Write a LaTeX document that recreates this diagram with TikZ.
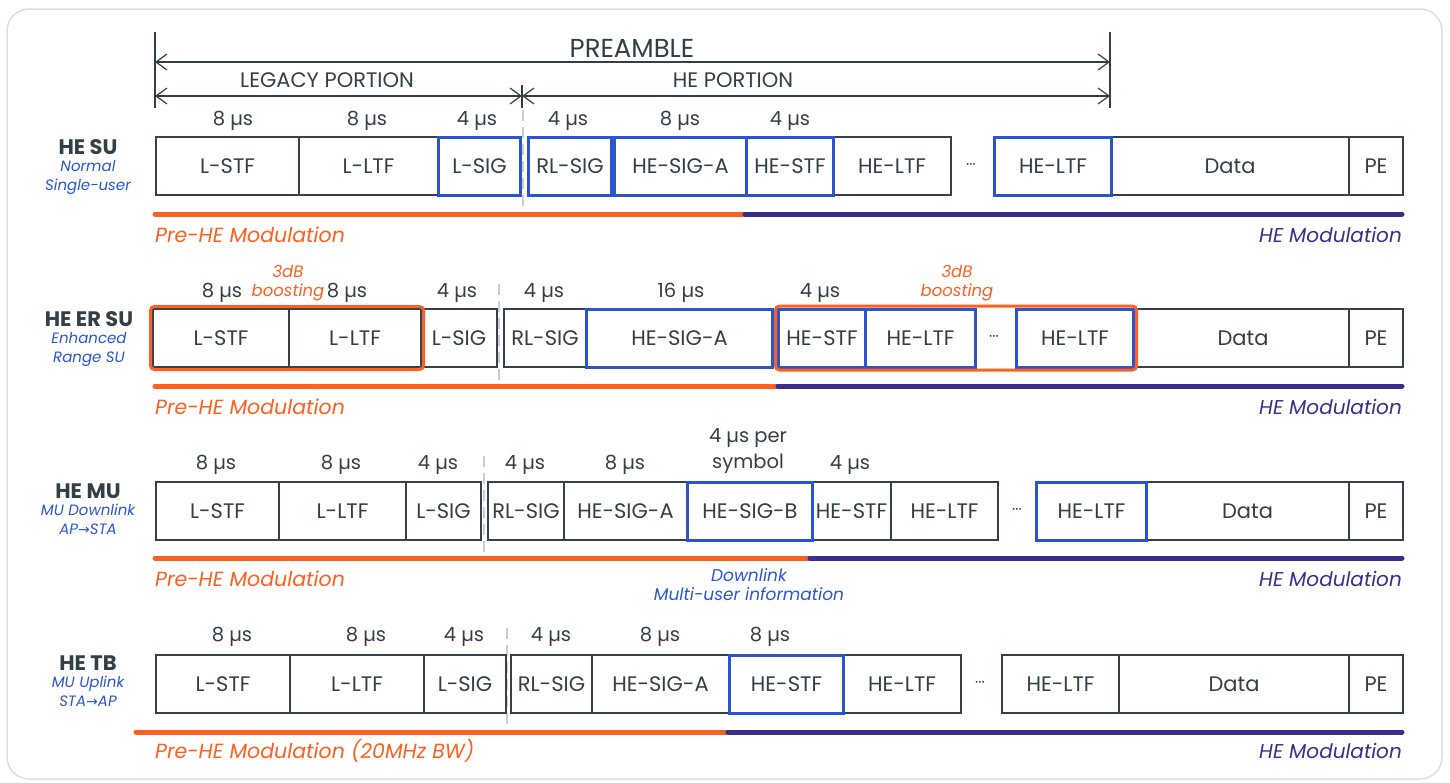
\documentclass[tikz,border=0pt]{standalone}
\usepackage{fontspec}
\setmainfont{Poppins}
\newfontfamily\symfont{DejaVu Sans}
\usetikzlibrary{positioning,arrows.meta,fit}
\definecolor{FrameGray}{RGB}{222,222,222}
\definecolor{CellDark}{RGB}{55,65,75}
\definecolor{TextDark}{RGB}{51,63,72}
\definecolor{SigBlue}{RGB}{43,85,208}
\definecolor{BoostOrange}{RGB}{255,95,31}
\definecolor{HEPurple}{RGB}{58,46,140}
\definecolor{SepGray}{RGB}{205,205,205}
\newcommand{\fs}[1]{\fontsize{#1}{#1}\selectfont}

\begin{document}
\begin{tikzpicture}[
x=1pt,y=-1pt,
cell/.style={rectangle,draw=CellDark,line width=2pt,minimum height=58pt,inner sep=0pt,
text=TextDark,font=\fs{21}},
sigcell/.style={cell,draw=SigBlue,line width=3pt},
dur/.style={text=TextDark,font=\fs{19.5},inner sep=0pt},
dots/.style={text=TextDark,font=\fs{15},inner sep=0pt},
boost/.style={text=BoostOrange,font=\itshape\fontsize{16.5}{19}\selectfont,align=center,inner sep=0pt},
boostbox/.style={draw=BoostOrange,line width=3pt,rounded corners=4pt,inner sep=1.5pt},
rowname/.style={text=TextDark,font=\bfseries\fs{21},inner sep=0pt},
rowsub/.style={text=SigBlue,font=\itshape\fontsize{15}{19}\selectfont,align=center,inner sep=0pt},
modbar/.style={line width=5pt,line cap=round},
prehe/.style={text=BoostOrange,font=\itshape\fs{20.5},anchor=west,inner sep=0pt},
helabel/.style={text=HEPurple,font=\itshape\fs{20},anchor=east,inner sep=0pt},
span/.style={draw=TextDark,line width=1.2pt},
spanarrow/.style={span,{Straight Barb[length=11pt,width=16pt]}-{Straight Barb[length=11pt,width=16pt]}},
sep/.style={draw=SepGray,line width=2pt,dash pattern=on 11pt off 6pt},
heading/.style={text=TextDark,inner sep=0pt}
]
\useasboundingbox (0,0) rectangle (1450,782);
\draw[FrameGray,line width=1.5pt,rounded corners=22pt] (7,9) rectangle (1442,779);

% preamble brackets
\coordinate (tickL) at (155,32); \coordinate (tickLb) at (155,108);
\coordinate (tickR) at (1110,32); \coordinate (tickRb) at (1110,108);
\coordinate (tickM) at (522,85); \coordinate (tickMb) at (522,108);
\draw[span] (tickL)--(tickLb); \draw[span] (tickR)--(tickRb); \draw[span] (tickM)--(tickMb);
\coordinate (preL) at (155,62); \coordinate (preR) at (1110,62);
\coordinate (legL) at (155,96); \coordinate (legR) at (522,96); \coordinate (heR) at (1110,96);
\draw[spanarrow] (preL)--(preR);
\draw[spanarrow] (legL)--(legR);
\draw[spanarrow] (legR)--(heR);
\node[heading,font=\fs{26}] (preamble) at (632,48) {PREAMBLE};
\node[heading,font=\fs{21}] (legacy) at (327,80) {LEGACY PORTION};
\node[heading,font=\fs{21}] (heportion) at (733,80) {HE PORTION};

% HE SU
\coordinate (suSepT) at (523,110); \coordinate (suSepB) at (523,216);
\draw[sep] (suSepT)--(suSepB);
\foreach \a/\b/\n/\t/\s [evaluate=\a as \w using \b-\a] in {
155/298/suLSTF/L-STF/cell, 298/437/suLLTF/L-LTF/cell, 832/950/suHELTFa/HE-LTF/cell,
1110/1348/suData/Data/cell, 1348/1402/suPE/PE/cell,
437/519/suLSIG/L-SIG/sigcell, 527/610/suRLSIG/RL-SIG/sigcell, 613/745/suSIGA/HE-SIG-A/sigcell,
745/832/suHESTF/HE-STF/sigcell, 993/1110/suHELTFb/HE-LTF/sigcell}
\node[\s,minimum width=\w pt,anchor=west] (\n) at (\a,166) {\t};
\node[dots] (suDots) at (971,166) {···};
\foreach \x/\t [count=\i] in {233/8 µs,367/8 µs,477/4 µs,568/4 µs,680/8 µs,790/4 µs}
\node[dur] (suDur\i) at (\x,121) {\t};
\coordinate (suBarA) at (155,214); \coordinate (suBarB) at (745,214); \coordinate (suBarC) at (1402,214);
\draw[modbar,BoostOrange] (suBarA)--(suBarB);
\draw[modbar,HEPurple] (suBarB)--(suBarC);
\node[prehe] (suPre) at (155,235) {Pre-HE Modulation};
\node[helabel] (suHE) at (1402,235) {HE Modulation};
\node[rowname] (suName) at (88,147) {HE SU};
\node[rowsub,below=5pt of suName] (suSub) {Normal\\Single-user};

% HE ER SU
\coordinate (erSepT) at (499,284); \coordinate (erSepB) at (499,388);
\draw[sep] (erSepT)--(erSepB);
\foreach \a/\b/\n/\t/\s [evaluate=\a as \w using \b-\a] in {
152/288/erLSTF/L-STF/cell, 288/420/erLLTF/L-LTF/cell, 420/496/erLSIG/L-SIG/cell,
503/585/erRLSIG/RL-SIG/cell, 1136/1348/erData/Data/cell, 1348/1402/erPE/PE/cell,
585/771/erSIGA/HE-SIG-A/sigcell, 777/864/erHESTF/HE-STF/sigcell,
864/974/erHELTFa/HE-LTF/sigcell, 1015/1132/erHELTFb/HE-LTF/sigcell}
\node[\s,minimum width=\w pt,anchor=west] (\n) at (\a,338) {\t};
\node[dots] (erDots) at (994,338) {···};
\node[boostbox,fit=(erLSTF)(erLLTF)] (erBoostL) {};
\node[boostbox,fit=(erHESTF)(erHELTFb)] (erBoostH) {};
\foreach \x/\t [count=\i] in {222/8 µs,347/8 µs,457/4 µs,544/4 µs,681/16 µs,820/4 µs}
\node[dur] (erDur\i) at (\x,293) {\t};
\node[boost] (erBoostTxtL) at (288,283) {3dB\\boosting};
\node[boost] (erBoostTxtH) at (957,283) {3dB\\boosting};
\coordinate (erBarA) at (155,386); \coordinate (erBarB) at (778,386); \coordinate (erBarC) at (1402,386);
\draw[modbar,BoostOrange] (erBarA)--(erBarB);
\draw[modbar,HEPurple] (erBarB)--(erBarC);
\node[prehe] (erPre) at (155,407) {Pre-HE Modulation};
\node[helabel] (erHE) at (1402,407) {HE Modulation};
\node[rowname] (erName) at (89,319) {HE ER SU};
\node[rowsub,below=5pt of erName] (erSub) {Enhanced\\Range SU};

% HE MU
\coordinate (muSepT) at (484,456); \coordinate (muSepB) at (484,560);
\draw[sep] (muSepT)--(muSepB);
\foreach \a/\b/\n/\t/\s [evaluate=\a as \w using \b-\a] in {
155/278/muLSTF/L-STF/cell, 278/405/muLLTF/L-LTF/cell, 405/480/muLSIG/L-SIG/cell,
487/563/muRLSIG/RL-SIG/cell, 563/686/muSIGA/HE-SIG-A/cell, 811/890/muHESTF/HE-STF/cell,
890/997/muHELTFa/HE-LTF/cell, 1145/1348/muData/Data/cell, 1348/1402/muPE/PE/cell,
686/811/muSIGB/HE-SIG-B/sigcell, 1035/1145/muHELTFb/HE-LTF/sigcell}
\node[\s,minimum width=\w pt,anchor=west] (\n) at (\a,511) {\t};
\node[dots] (muDots) at (1017,511) {···};
\foreach \x/\t [count=\i] in {216/8 µs,341/8 µs,438/4 µs,525/4 µs,625/8 µs,850/4 µs}
\node[dur] (muDur\i) at (\x,465) {\t};
\node[dur,align=center,font=\fontsize{19.5}{26}\selectfont] (muSymbol) at (748,451) {4 µs per\\symbol};
\coordinate (muBarA) at (155,558); \coordinate (muBarB) at (810,558); \coordinate (muBarC) at (1402,558);
\draw[modbar,BoostOrange] (muBarA)--(muBarB);
\draw[modbar,HEPurple] (muBarB)--(muBarC);
\node[prehe] (muPre) at (155,579) {Pre-HE Modulation};
\node[helabel] (muHE) at (1402,579) {HE Modulation};
\node[rowsub,font=\itshape\fontsize{17}{19}\selectfont] (muNote) at (749,585) {Downlink\\Multi-user information};
\node[rowname] (muName) at (88,491) {HE MU};
\node[rowsub,below=5pt of muName] (muSub) {MU Downlink\\AP{\symfont\fs{14}→}STA};

% HE TB
\coordinate (tbSepT) at (507,628); \coordinate (tbSepB) at (507,734);
\draw[sep] (tbSepT)--(tbSepB);
\foreach \a/\b/\n/\t/\s [evaluate=\a as \w using \b-\a] in {
155/289/tbLSTF/L-STF/cell, 289/423/tbLLTF/L-LTF/cell, 423/505/tbLSIG/L-SIG/cell,
510/591/tbRLSIG/RL-SIG/cell, 591/728/tbSIGA/HE-SIG-A/cell, 842/960/tbHELTFa/HE-LTF/cell,
1001/1118/tbHELTFb/HE-LTF/cell, 1118/1348/tbData/Data/cell, 1348/1402/tbPE/PE/cell,
728/842/tbHESTF/HE-STF/sigcell}
\node[\s,minimum width=\w pt,anchor=west] (\n) at (\a,684) {\t};
\node[dots] (tbDots) at (980,684) {···};
\foreach \x/\t [count=\i] in {232/8 µs,366/8 µs,464/4 µs,551/4 µs,660/8 µs,770/8 µs}
\node[dur] (tbDur\i) at (\x,637) {\t};
\coordinate (tbBarA) at (136,732); \coordinate (tbBarB) at (728,732); \coordinate (tbBarC) at (1402,732);
\draw[modbar,BoostOrange] (tbBarA)--(tbBarB);
\draw[modbar,HEPurple] (tbBarB)--(tbBarC);
\node[prehe] (tbPre) at (155,751) {Pre-HE Modulation (20MHz BW)};
\node[helabel] (tbHE) at (1402,751) {HE Modulation};
\node[rowname] (tbName) at (88,663) {HE TB};
\node[rowsub,below=5pt of tbName] (tbSub) {MU Uplink\\STA{\symfont\fs{14}→}AP};
\end{tikzpicture}
\end{document}
